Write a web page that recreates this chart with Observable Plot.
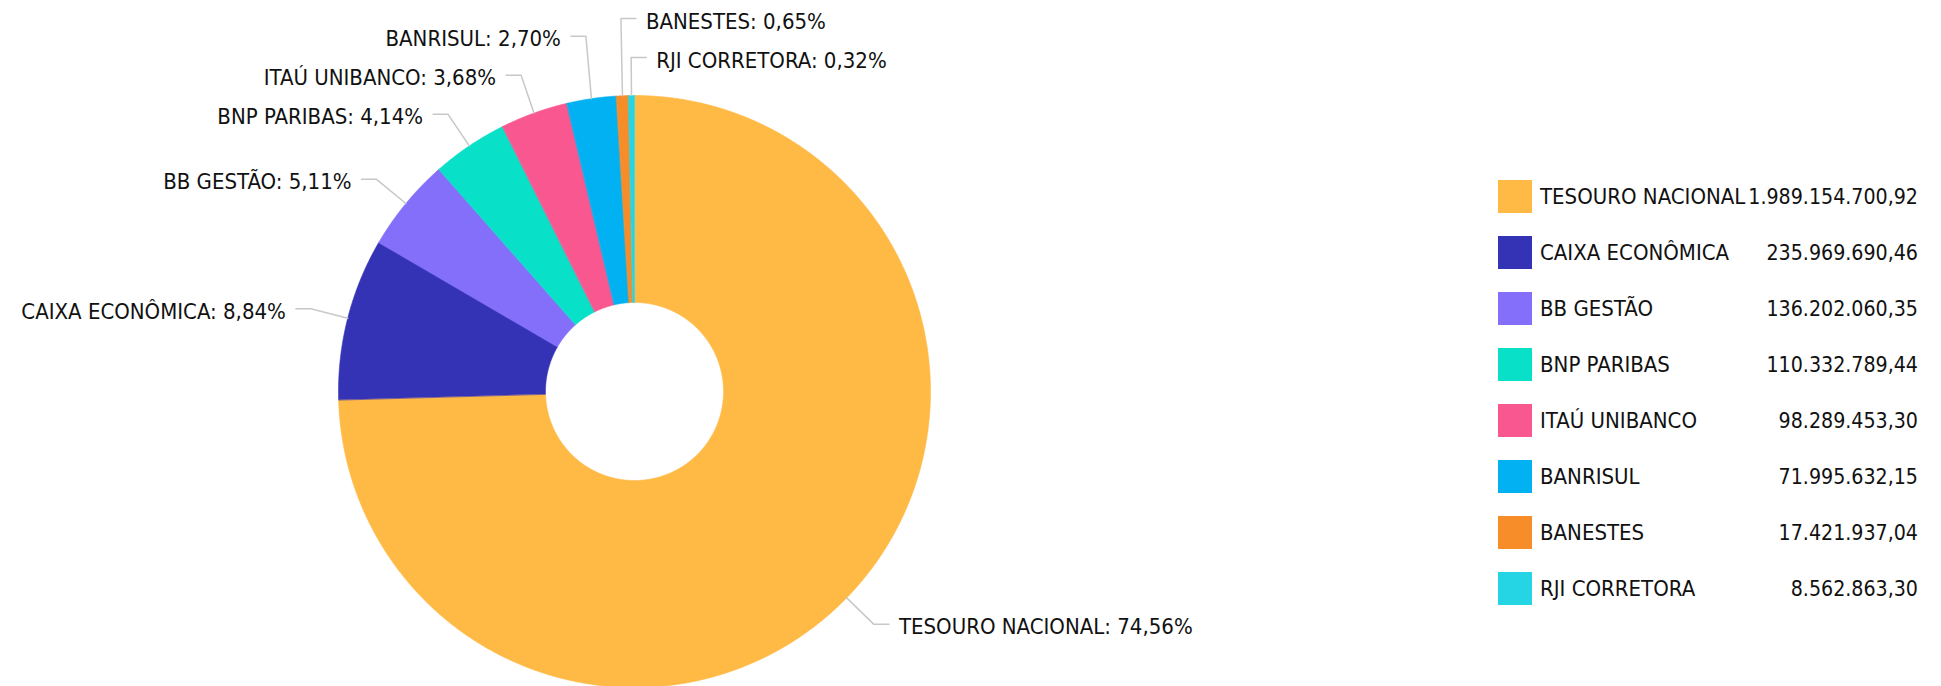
<!DOCTYPE html>
<html>
<head>
<meta charset="utf-8">
<script src="https://cdn.jsdelivr.net/npm/d3@7"></script>
<script src="https://cdn.jsdelivr.net/npm/@observablehq/plot@0.6"></script>
<style>
  body { margin: 0; background: #fff; }
  #wrap { position: relative; width: 1941px; height: 686px; overflow: hidden;
          font-family: "DejaVu Sans Condensed", "DejaVu Sans", sans-serif; font-stretch: condensed; }
  #chart svg { display: block; font-family: "DejaVu Sans Condensed", "DejaVu Sans", sans-serif; font-stretch: condensed; }
  #legend { position: absolute; left: 1498px; top: 168px; width: 420px; }
  .row { position: relative; height: 56px; display: flex; align-items: center; font-size: 22px; color: #111; }
  .sw { width: 34px; height: 33px; margin-right: 8px; flex: none; }
  .lab { white-space: nowrap; }
  .val { position: absolute; right: 0; white-space: nowrap; font-size: 21.2px; }
</style>
</head>
<body>
<div id="wrap">
  <div id="chart"></div>
  <div id="legend"></div>
</div>
<script>
// ---- data ----
const names = ["TESOURO NACIONAL", "CAIXA ECONÔMICA", "BB GESTÃO", "BNP PARIBAS", "ITAÚ UNIBANCO", "BANRISUL", "BANESTES", "RJI CORRETORA"];
const values = [1989154700.92, 235969690.46, 136202060.35, 110332789.44, 98289453.30, 71995632.15, 17421937.04, 8562863.30];
const colors = ["#FFB945", "#3432B5", "#836FFA", "#08E0C8", "#F8578F", "#02B1F1", "#F68D28", "#26D5E3"];

// ---- layout constants ----
const W = 1941, H = 686;
const cx = 634, cy = 391, R = 296, R0 = 89;
const leg1 = 38, hLen = 15, txtGap = 10, gap = 39;

const total = d3.sum(values);
const pct = v => (v / total * 100).toFixed(2).replace(".", ",") + "%";
const fmt = v => { const [i, d] = v.toFixed(2).split("."); return i.replace(/\B(?=(\d{3})+(?!\d))/g, ".") + "," + d; };

const arcs = d3.pie().sort(null).value(d => d)(values);

// slice polygons
const slicePts = [];
arcs.forEach((p, i) => {
  const a0 = p.startAngle, a1 = p.endAngle;
  const n = Math.max(2, Math.ceil((a1 - a0) / (Math.PI / 720)));
  const outer = [], inner = [];
  for (let k = 0; k <= n; k++) {
    const t = a0 + (a1 - a0) * k / n;
    outer.push({name: names[i], x: R * Math.sin(t), y: -R * Math.cos(t)});
    inner.push({name: names[i], x: R0 * Math.sin(t), y: -R0 * Math.cos(t)});
  }
  slicePts.push(...outer, ...inner.reverse());
});

// label layout
const labels = arcs.map((p, i) => {
  const a = (p.startAngle + p.endAngle) / 2;
  const s = Math.sin(a), c = Math.cos(a);
  const side = s > -0.05 ? 1 : -1;
  const key = side === 1 ? (a > Math.PI ? a - 2 * Math.PI : a) : 2 * Math.PI - a;
  return {name: names[i], side, key, ax: R * s, ay: -R * c, ex: (R + leg1) * s, ey: -(R + leg1) * c,
          text: names[i] + ": " + pct(values[i])};
});
for (const side of [-1, 1]) {
  const grp = labels.filter(d => d.side === side).sort((a, b) => a.key - b.key);
  let prev = Infinity;
  for (let k = grp.length - 1; k >= 0; k--) {
    grp[k].ey = Math.min(grp[k].ey, prev - gap);
    prev = grp[k].ey;
  }
}
const leaderPts = [];
labels.forEach(d => {
  leaderPts.push({name: d.name, x: d.ax, y: d.ay});
  leaderPts.push({name: d.name, x: d.ex, y: d.ey});
  leaderPts.push({name: d.name, x: d.ex + d.side * hLen, y: d.ey});
  d.tx = d.ex + d.side * (hLen + txtGap);
});

const chart = Plot.plot({
  width: W, height: H, margin: 0,
  x: {domain: [-cx, W - cx], range: [0, W], axis: null},
  y: {domain: [-cy, H - cy], range: [0, H], axis: null},
  color: {domain: names, range: colors},
  marks: [
    Plot.line(slicePts, {x: "x", y: "y", z: "name", fill: "name", stroke: "name", strokeWidth: 0.6, curve: "linear-closed"}),
    Plot.line(leaderPts, {x: "x", y: "y", z: "name", stroke: "#c8c8c8", strokeWidth: 1.5}),
    Plot.text(labels.filter(d => d.side < 0), {x: "tx", y: "ey", text: "text", textAnchor: "end", dy: 3, fontSize: 22, fill: "#111"}),
    Plot.text(labels.filter(d => d.side > 0), {x: "tx", y: "ey", text: "text", textAnchor: "start", dy: 3, fontSize: 22, fill: "#111"})
  ]
});
document.getElementById("chart").append(chart);

// legend
const legend = d3.select("#legend");
names.forEach((n, i) => {
  const row = legend.append("div").attr("class", "row");
  row.append("div").attr("class", "sw").style("background", colors[i]);
  row.append("span").attr("class", "lab").text(n);
  row.append("span").attr("class", "val").text(fmt(values[i]));
});
</script>
</body>
</html>
